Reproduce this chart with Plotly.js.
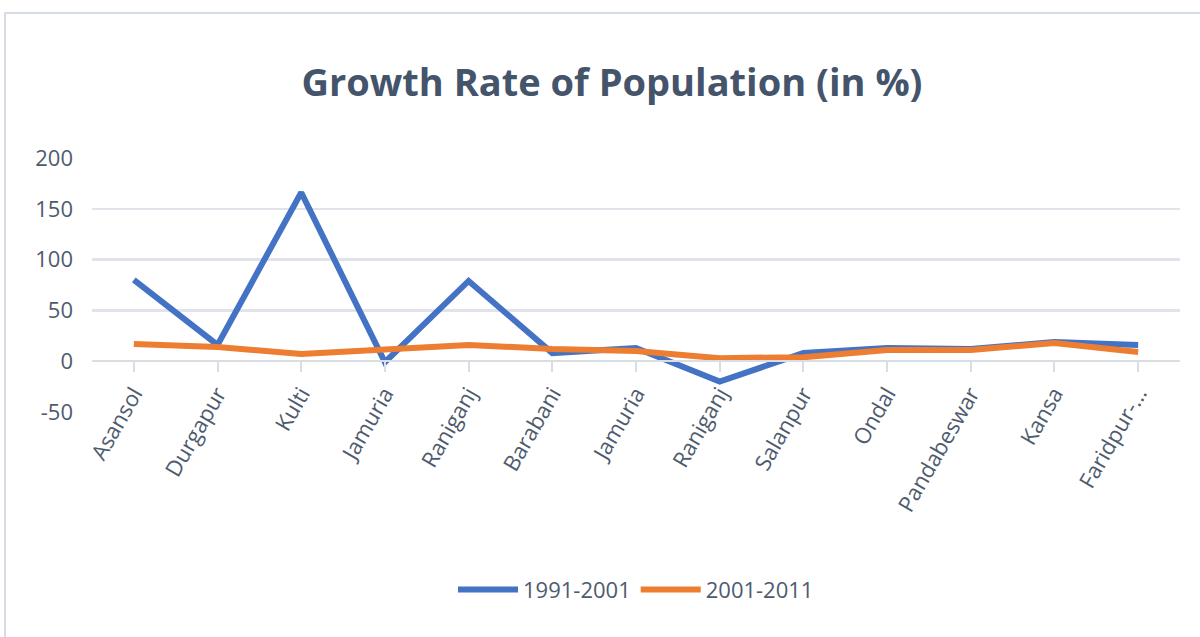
<!DOCTYPE html>
<html>
<head>
<meta charset="utf-8">
<script src="https://cdn.plot.ly/plotly-3.0.1.min.js"></script>
<style>html,body{margin:0;padding:0;background:#fff;}#chart{width:1200px;height:637px;}</style>
</head>
<body>
<div id="chart"></div>
<script>
const categories = ["Asansol","Durgapur","Kulti","Jamuria","Raniganj","Barabani","Jamuria","Raniganj","Salanpur","Ondal","Pandabeswar","Kansa","Faridpur-..."];
const growth1991_2001 = [80, 16, 166, -1, 79, 8, 13, -20, 8, 13, 12, 19, 16];
const growth2001_2011 = [17, 14, 7, 12, 16, 12, 10, 3, 4, 11, 11, 18, 9];
const seriesNames = ["1991-2001", "2001-2011"];
const yTicks = [-50, 0, 50, 100, 150, 200];

const xIdx = categories.map((_, i) => i);
const fontFam = "'Open Sans', sans-serif";
const textColor = "#4E5B6E";

const traces = [
  {x: xIdx, y: growth1991_2001, name: seriesNames[0], type: 'scatter', mode: 'lines',
   line: {color: '#4472C4', width: 6}},
  {x: xIdx, y: growth2001_2011, name: seriesNames[1], type: 'scatter', mode: 'lines',
   line: {color: '#ED7D31', width: 6}}
];

const layout = {
  width: 1200, height: 637,
  margin: {l: 92, r: 20, t: 158, b: 225},
  paper_bgcolor: '#ffffff', plot_bgcolor: '#ffffff',
  showlegend: true,
  title: {text: '<b>Growth Rate of Population (in %)</b>', x: 0.51, xanchor: 'center',
          y: 0.87, yanchor: 'middle', yref: 'container',
          font: {family: "'Open Sans', sans-serif", size: 38, color: '#44546A'}},
  xaxis: {
    range: [-0.5, 12.5], tickvals: xIdx, ticktext: categories,
    anchor: 'free', position: 0.2,
    tickangle: -60, ticks: 'outside', ticklen: 10, tickcolor: '#D9DDE4', tickwidth: 2,
    tickson: 'boundaries',
    showline: true, linecolor: '#D9DDE4', linewidth: 2,
    showgrid: false, zeroline: false,
    tickfont: {family: fontFam, size: 22, color: textColor}
  },
  yaxis: {
    range: [-50, 200], tickvals: yTicks, ticktext: yTicks.map(String),
    showgrid: true, gridcolor: '#E0E4EA', gridwidth: 2.5,
    zeroline: false, showline: false, ticks: '',
    tickfont: {family: fontFam, size: 22, color: textColor},
    ticklabelstandoff: 18
  },
  legend: {orientation: 'h', x: 0.5, xanchor: 'center', y: -0.70, yanchor: 'middle',
           font: {family: fontFam, size: 22, color: textColor}, itemwidth: 60},
  shapes: [
    {type: 'rect', xref: 'paper', yref: 'paper',
     x0: (5 - 92) / 1088, x1: (1215 - 92) / 1088,
     y0: (412 - 660) / 254, y1: (412 - 13) / 254,
     line: {color: '#D6DCE4', width: 2}, fillcolor: 'rgba(0,0,0,0)', layer: 'below'}
  ]
};

Plotly.newPlot('chart', traces, layout, {displayModeBar: false, staticPlot: true});
</script>
</body>
</html>
